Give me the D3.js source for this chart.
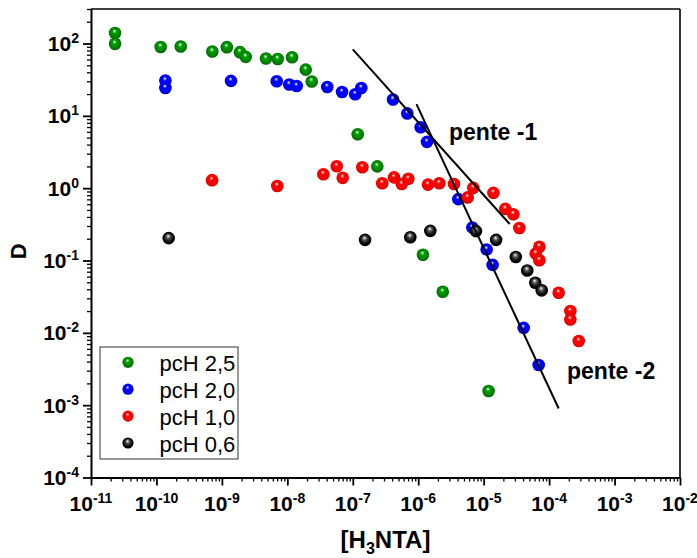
<!DOCTYPE html>
<html>
<head>
<meta charset="utf-8">
<script src="https://cdn.jsdelivr.net/npm/d3@7"></script>
<style>
  body { margin: 0; background: #fff; }
  svg { font-family: "Liberation Sans", Arial, sans-serif; }
</style>
</head>
<body>
<svg id="chart"></svg>
<script>
// series values: [H3NTA] (x) and D (y)
var greenX = [2.33e-11, 2.33e-11, 1.16e-10, 2.35e-10, 7.15e-10, 1.19e-9, 1.89e-9, 2.31e-9, 4.72e-9, 7.13e-9, 1.18e-8, 1.91e-8, 2.36e-8, 1.19e-7, 2.37e-7, 1.18e-6, 2.37e-6, 1.19e-5]
var greenY = [140, 99, 89.7, 90.8, 77.5, 89, 75.9, 65.3, 62.1, 61.2, 64.6, 43.6, 29.9, 5.57, 2.0, 0.12, 0.0369, 0.00157]

var blueX = [1.37e-10, 1.37e-10, 1.38e-9, 6.89e-9, 1.07e-8, 1.39e-8, 4.08e-8, 6.86e-8, 1.09e-7, 1.35e-7, 4.12e-7, 6.81e-7, 1.09e-6, 1.36e-6, 4.1e-6, 6.71e-6, 1.11e-5, 1.37e-5, 4.09e-5, 6.93e-5]
var blueY = [30.8, 24.3, 30.4, 30.1, 27.1, 25.9, 25.1, 21.4, 19.9, 24.3, 16.8, 10.8, 6.97, 4.36, 0.705, 0.286, 0.142, 0.087, 0.0117, 0.00359]

var redX = [7.07e-10, 7.03e-9, 3.55e-8, 5.69e-8, 7.02e-8, 1.4e-7, 2.82e-7, 4.27e-7, 5.6e-7, 7.06e-7, 1.41e-6, 2.1e-6, 3.52e-6, 5.7e-6, 6.95e-6, 1.41e-5, 2.14e-5, 2.84e-5, 3.51e-5, 7.1e-5, 6.25e-5, 7.1e-5, 1.4e-4, 2.11e-4, 2.11e-4, 2.84e-4]
var redY = [1.29, 1.07, 1.56, 2.01, 1.39, 1.95, 1.17, 1.41, 1.14, 1.35, 1.12, 1.17, 1.14, 0.745, 1.01, 0.861, 0.518, 0.437, 0.281, 0.155, 0.125, 0.101, 0.0358, 0.02, 0.0153, 0.0077]

var blackX = [1.54e-10, 1.54e-7, 7.57e-7, 1.53e-6, 7.64e-6, 1.55e-5, 3.1e-5, 4.63e-5, 6.14e-5, 7.71e-5]
var blackY = [0.204, 0.193, 0.21, 0.257, 0.255, 0.193, 0.112, 0.0728, 0.0492, 0.0387]

// slope guide lines
var slope1X = [1e-7, 2.5e-5]
var slope1Y = [83, 0.32]
var slope2X = [9.4e-7, 1.4e-4]
var slope2Y = [14.5, 9.0e-4]

var legendLabels = ["pcH 2,5", "pcH 2,0", "pcH 1,0", "pcH 0,6"]
var seriesColors = ["#008000", "#0000ff", "#ff0000", "#000000"]
var xDecades = [-11, -10, -9, -8, -7, -6, -5, -4, -3, -2]
var yDecades = [-4, -3, -2, -1, 0, 1, 2]

var dimensions = {
    width: 697,
    height: 558,
    margin: { top: 9, bottom: 80.5, right: 17, left: 91 }
}

var svg = d3.select("#chart")
    .attr("width", dimensions.width)
    .attr("height", dimensions.height)

var xScale = d3.scaleLog()
    .domain([1e-11, 1e-2])
    .range([dimensions.margin.left, dimensions.width - dimensions.margin.right])

var yScale = d3.scaleLog()
    .domain([1e-4, 300])
    .range([dimensions.height - dimensions.margin.bottom, dimensions.margin.top])

var x0 = xScale.range()[0], x1 = xScale.range()[1]
var y0 = yScale.range()[0], y1 = yScale.range()[1]

// sphere-like gradients
var defs = svg.append("defs")
seriesColors.forEach(function (c, i) {
    var g = defs.append("radialGradient")
        .attr("id", "ball" + i)
        .attr("cx", "50%").attr("cy", "50%").attr("r", "55%")
        .attr("fx", "45%").attr("fy", "32%")
    g.append("stop").attr("offset", "0%").attr("stop-color", "#ffffff")
    g.append("stop").attr("offset", "30%").attr("stop-color", i == 3 ? "#555" : d3.color(c).brighter(0.6))
    g.append("stop").attr("offset", "70%").attr("stop-color", c)
    g.append("stop").attr("offset", "100%").attr("stop-color", d3.color(c).darker(0.8))
})

// minor ticks
var minorX = []
for (var e = -11; e < -2; e++) for (var k = 2; k <= 9; k++) minorX.push(k * Math.pow(10, e))
var minorY = []
for (var e = -4; e < 3; e++) for (var k = 2; k <= 9; k++) {
    var v = k * Math.pow(10, e)
    if (v <= 300) minorY.push(v)
}

svg.append("g")
    .attr("transform", "translate(0," + y0 + ")")
    .call(d3.axisBottom(xScale).tickValues(minorX).tickSize(4).tickFormat(""))
    .call(g => g.select(".domain").remove())
    .selectAll("line").attr("stroke-width", 1.3)

svg.append("g")
    .attr("transform", "translate(0," + y0 + ")")
    .call(d3.axisBottom(xScale).tickValues(xDecades.map(d => Math.pow(10, d))).tickSize(8).tickSizeOuter(0).tickFormat(""))
    .call(g => g.select(".domain").attr("stroke-width", 2))
    .selectAll("line").attr("stroke-width", 1.8)

svg.append("g")
    .attr("transform", "translate(" + x0 + ",0)")
    .call(d3.axisLeft(yScale).tickValues(minorY).tickSize(4).tickFormat(""))
    .call(g => g.select(".domain").remove())
    .selectAll("line").attr("stroke-width", 1.3)

svg.append("g")
    .attr("transform", "translate(" + x0 + ",0)")
    .call(d3.axisLeft(yScale).tickValues(yDecades.map(d => Math.pow(10, d))).tickSize(8).tickSizeOuter(0).tickFormat(""))
    .call(g => g.select(".domain").attr("stroke-width", 2))
    .selectAll("line").attr("stroke-width", 1.8)

// top and right frame
svg.append("line").attr("x1", x0).attr("x2", x1).attr("y1", y1).attr("y2", y1)
    .attr("stroke", "black").attr("stroke-width", 1.6)
svg.append("line").attr("x1", x1).attr("x2", x1).attr("y1", y1).attr("y2", y0)
    .attr("stroke", "black").attr("stroke-width", 1.6)

// tick labels with superscripts
var xLab = svg.append("g").selectAll("text")
    .data(xDecades)
    .enter()
    .append("text")
    .attr("x", d => xScale(Math.pow(10, d)))
    .attr("y", y0 + 33)
    .attr("text-anchor", "middle")
    .attr("font-weight", "bold")
    .attr("font-size", 21)
xLab.append("tspan").text("10")
xLab.append("tspan").attr("dy", -8).attr("font-size", 14).text(d => d)

var yLab = svg.append("g").selectAll("text")
    .data(yDecades)
    .enter()
    .append("text")
    .attr("x", 79)
    .attr("y", d => yScale(Math.pow(10, d)) + 7.5)
    .attr("text-anchor", "end")
    .attr("font-weight", "bold")
    .attr("font-size", 21)
yLab.append("tspan").text("10")
yLab.append("tspan").attr("dy", -8).attr("font-size", 14).text(d => d)

// axis titles
svg.append("text")
    .attr("transform", "translate(26," + ((y0 + y1) / 2 + 8) + ") rotate(-90)")
    .attr("text-anchor", "middle")
    .attr("font-weight", "bold")
    .attr("font-size", 22)
    .text("D")

var xt = svg.append("text")
    .attr("x", (x0 + x1) / 2)
    .attr("y", 548)
    .attr("text-anchor", "middle")
    .attr("font-weight", "bold")
    .attr("font-size", 24)
xt.append("tspan").text("[H")
xt.append("tspan").attr("dy", 6).attr("font-size", 16).text("3")
xt.append("tspan").attr("dy", -6).text("NTA]")

// points
var allSeries = [[greenX, greenY], [blueX, blueY], [redX, redY], [blackX, blackY]]
allSeries.forEach(function (s, i) {
    svg.append("g").selectAll("circle")
        .data(s[0].map((v, j) => [v, s[1][j]]))
        .enter()
        .append("circle")
        .attr("cx", d => xScale(d[0]))
        .attr("cy", d => yScale(d[1]))
        .attr("r", 6.3)
        .attr("fill", "url(#ball" + i + ")")
})

// slope lines
var line = d3.line().x(d => xScale(d[0])).y(d => yScale(d[1]))
;[[slope1X, slope1Y], [slope2X, slope2Y]].forEach(function (s) {
    svg.append("path")
        .attr("d", line(s[0].map((v, j) => [v, s[1][j]])))
        .attr("stroke", "black")
        .attr("stroke-width", 2)
        .attr("fill", "none")
})

svg.append("text").attr("x", 449).attr("y", 139.5)
    .attr("font-weight", "bold").attr("font-size", 23).text("pente -1")
svg.append("text").attr("x", 567).attr("y", 378.5)
    .attr("font-weight", "bold").attr("font-size", 23).text("pente -2")

// legend
var legend = svg.append("g")
legend.append("rect")
    .attr("x", 100).attr("y", 347)
    .attr("width", 138).attr("height", 112)
    .attr("fill", "white").attr("stroke", "#333").attr("stroke-width", 1)

var items = legend.selectAll("g.item")
    .data(legendLabels)
    .enter()
    .append("g")
    .attr("transform", (d, i) => "translate(0," + (362.3 + i * 26.9) + ")")
items.append("circle")
    .attr("cx", 128).attr("cy", 0).attr("r", 5.6)
    .attr("fill", (d, i) => "url(#ball" + i + ")")
items.append("text")
    .attr("x", 159.5).attr("y", 8.6)
    .attr("font-size", 22)
    .text(d => d)
</script>
</body>
</html>
